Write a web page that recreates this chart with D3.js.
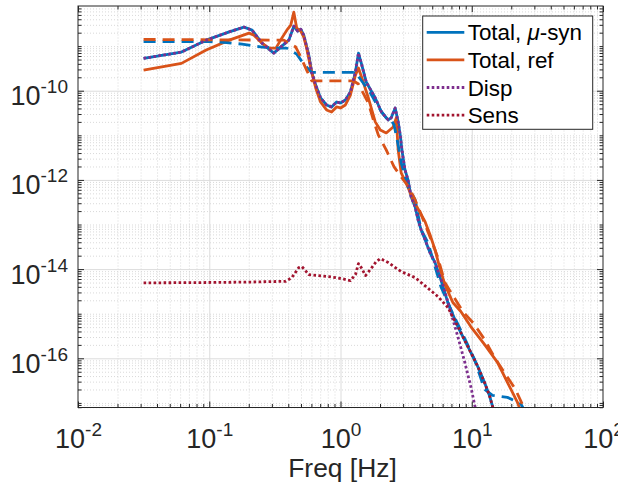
<!DOCTYPE html>
<html><head><meta charset="utf-8">
<script src="https://cdn.jsdelivr.net/npm/d3@7"></script>
<style>body{margin:0;background:#fff;} svg{display:block;font-family:"Liberation Sans",Arial,Helvetica,sans-serif;}</style>
</head><body><svg id="c" width="618" height="489"></svg>
<script>
// ---------------- data ----------------
const xTicks = [0.01, 0.1, 1, 10, 100];
const xTickExp = ["-2", "-1", "0", "1", "2"];
const yTicks = [1e-16, 1e-14, 1e-12, 1e-10];
const yTickExp = ["-16", "-14", "-12", "-10"];
const xDomain = [0.01, 100];
const yDomain = [7.89e-18, 7.93e-9];

// Total, mu-syn (solid blue)
const muSynFreq = [0.0316,0.0614,0.0948,0.142,0.184,0.212,0.252,0.310,0.357,0.404,0.441,0.472,0.498,0.525,0.573,0.603,0.647,0.705,0.783,0.855,0.933,1.0,1.09,1.19,1.30,1.37,1.44,1.57,1.84,2.05,2.31,2.43,2.61,2.75,2.85,2.95,3.10,3.27,3.45,3.70,3.90,4.11,4.41,4.81,5.25,5.72,6.58,7.83,9.33,11.1,12.5,13.7,14.9,16.3];
const muSynTotal = [5.31e-10,7.35e-10,1.36e-9,2.09e-9,2.66e-9,2.28e-9,1.17e-9,6.97e-10,1.0e-9,1.36e-9,2.80e-9,2.17e-9,2.40e-9,1.76e-9,6.30e-10,2.62e-10,1.34e-10,6.87e-11,4.79e-11,4.32e-11,5.58e-11,5.31e-11,6.19e-11,9.35e-11,2.62e-10,6.97e-10,4.17e-10,1.57e-10,6.87e-11,3.33e-11,2.21e-11,2.45e-11,4.10e-11,2.0e-11,1.02e-11,4.26e-12,1.68e-12,1.0e-12,4.19e-13,2.50e-13,1.28e-13,7.66e-14,4.57e-14,2.34e-14,1.40e-14,6.79e-15,1.78e-15,5.16e-16,1.85e-16,6.59e-17,2.89e-17,1.41e-17,5.86e-18,2.6e-18];

// Total, ref (solid orange)
const refFreq = [0.0316,0.0614,0.0948,0.142,0.201,0.219,0.252,0.285,0.322,0.357,0.390,0.418,0.441,0.464,0.498,0.525,0.552,0.593,0.647,0.705,0.783,0.855,0.933,1.0,1.09,1.19,1.30,1.37,1.49,1.63,1.84,2.01,2.23,2.52,2.66,2.75,2.90,3.16,3.57,4.04,4.41,4.81,5.25,5.62,6.24,7.18,8.26,9.83,12.5,15.7,18.7,22.3,23.9,25.6];
const refTotal = [2.90e-10,4.10e-10,8.15e-10,1.36e-9,1.95e-9,1.76e-9,1.17e-9,9.0e-10,9.0e-10,1.51e-9,2.28e-9,2.95e-9,5.77e-9,2.53e-9,2.17e-9,1.59e-9,9.0e-10,3.22e-10,1.15e-10,5.58e-11,3.70e-11,3.33e-11,4.32e-11,4.10e-11,4.79e-11,8.01e-11,2.24e-10,3.22e-10,1.57e-10,6.87e-11,2.0e-11,1.32e-11,1.13e-11,1.54e-11,2.45e-11,4.71e-12,1.44e-12,8.6e-13,3.59e-13,1.84e-13,1.16e-13,5.91e-14,2.73e-14,1.26e-14,4.50e-15,1.78e-15,1.12e-15,5.16e-16,2.05e-16,8.10e-17,2.89e-17,1.03e-17,5.86e-18,2.6e-18];

// dashed blue (mu-syn, not in legend)
const muSynDashFreq = [0.0316,0.1,0.135,0.178,0.252,0.339,0.390,0.464,0.525,0.603,1.30,1.47,1.69,1.94,2.23,2.43,2.56,2.75,2.90,3.27,3.70,4.11,4.64,5.25,5.82,6.93,8.55,10.5,12.5,14.4,18.7,23.5,26.5];
const muSynDash = [1.26e-9,1.26e-9,1.20e-9,1.11e-9,9.51e-10,9.0e-10,9.0e-10,6.62e-10,3.95e-10,2.58e-10,2.58e-10,1.57e-10,8.89e-11,4.32e-11,2.45e-11,2.21e-11,1.71e-11,6.10e-12,2.41e-12,7.0e-13,3.59e-13,7.66e-14,3.92e-14,1.14e-14,4.06e-15,1.24e-15,3.43e-16,9.44e-17,2.02e-17,1.48e-17,1.33e-17,9.8e-18,5.27e-18];

// dashed orange (ref, not in legend)
const refDashFreq = [0.0316,0.370,0.456,0.498,0.552,0.603,1.25,1.37,1.63,1.78,1.94,2.23,2.56,2.90,3.27,3.70,4.04,4.64,5.52,6.24,8.55,10.5,12.5,14.9,18.1,21.5,24.3,26.5];
const refDash = [1.41e-9,1.36e-9,9.51e-10,5.68e-10,2.90e-10,1.67e-10,1.67e-10,1.41e-10,5.31e-11,2.21e-11,1.02e-11,4.71e-12,1.96e-12,1.17e-12,7.38e-13,3.59e-13,1.93e-13,6.90e-14,1.81e-14,4.99e-15,1.12e-15,5.73e-16,2.65e-16,1.05e-16,4.37e-17,2.02e-17,9.3e-18,4.3e-18];

// Disp (dotted purple)
const dispFreq = [0.0316,0.0614,0.0948,0.142,0.184,0.212,0.252,0.310,0.357,0.404,0.441,0.472,0.498,0.525,0.573,0.603,0.647,0.705,0.783,0.855,0.933,1.0,1.09,1.19,1.30,1.37,1.44,1.57,1.84,2.05,2.31,2.43,2.61,2.75,2.85,2.95,3.10,3.27,3.45,3.70,3.90,4.11,4.41,4.81,5.25,6.03,6.93,7.83,8.85,9.83,10.5,11.3];
const dispVal = [5.31e-10,7.35e-10,1.36e-9,2.09e-9,2.66e-9,2.28e-9,1.17e-9,6.97e-10,1.0e-9,1.36e-9,2.80e-9,2.17e-9,2.40e-9,1.76e-9,6.30e-10,2.62e-10,1.34e-10,6.87e-11,4.79e-11,4.32e-11,5.58e-11,5.31e-11,6.19e-11,9.35e-11,2.62e-10,6.97e-10,4.17e-10,1.57e-10,6.87e-11,3.33e-11,2.21e-11,2.45e-11,4.10e-11,2.0e-11,1.02e-11,4.26e-12,1.68e-12,1.0e-12,4.19e-13,2.50e-13,1.28e-13,7.66e-14,4.57e-14,2.34e-14,1.40e-14,4.50e-15,1.06e-15,3.09e-16,8.10e-17,2.35e-17,9.3e-18,3.3e-18];

// Sens (dotted dark red)
const sensFreq = [0.0316,0.0839,0.201,0.383,0.426,0.481,0.507,0.533,0.573,0.811,1.02,1.19,1.30,1.37,1.44,1.55,1.69,1.87,2.01,2.31,2.90,3.70,4.48,5.52,6.58,7.83,9.33,11.1,12.5,13.7,14.9,16.3];
const sensVal = [4.91e-15,4.99e-15,5.12e-15,5.33e-15,6.46e-15,1.08e-14,1.14e-14,9.75e-15,7.53e-15,6.79e-15,6.12e-15,5.53e-15,7.53e-15,1.33e-14,1.08e-14,7.15e-15,9.75e-15,1.47e-14,1.72e-14,1.40e-14,8.79e-15,6.46e-15,4.06e-15,2.43e-15,1.38e-15,5.16e-16,1.85e-16,6.59e-17,2.89e-17,1.41e-17,5.86e-18,2.6e-18];

const legendLabels = ["Total, ", "Total, ref", "Disp", "Sens"];

// ---------------- drawing ----------------
const ink = "#262626";
const C = {blue:"#0072BD", orange:"#D95319", purple:"#7E2F8E", red:"#A2142F"};
const m = {left:78, right:603, top:6, bottom:407.5};
const x = d3.scaleLog().domain(xDomain).range([m.left, m.right]);
const y = d3.scaleLog().domain(yDomain).range([m.bottom, m.top]);
const svg = d3.select("#c");
const ph = m.bottom - m.top, pw = m.right - m.left;
const LW = 2.8;

svg.append("defs").append("clipPath").attr("id","clip")
  .append("rect").attr("x",m.left).attr("y",m.top).attr("width",pw).attr("height",ph);

// minor values
const xMinor = [];
for (let n=-2;n<2;n++) for (let k=2;k<=9;k++) xMinor.push(k*Math.pow(10,n));
const yMinor = [];
for (let n=-18;n<-7;n++) for (let k=1;k<=9;k++) {
  const v = k*Math.pow(10,n);
  if (v>=yDomain[0] && v<=yDomain[1] && !yTicks.some(t=>Math.abs(v/t-1)<1e-6)) yMinor.push(v);
}
const xMajorInner = xTicks.filter(v=>v>xDomain[0] && v<xDomain[1]);

// grids
function gridStyle(sel, minor){
  sel.select(".domain").remove();
  sel.selectAll("text").remove();
  sel.selectAll("line").attr("stroke", minor ? "#c8c8c8" : "#dcdcdc")
     .attr("stroke-width", minor ? 0.7 : 1)
     .attr("stroke-dasharray", minor ? "1,2" : null);
}
svg.append("g").attr("transform",`translate(0,${m.bottom})`)
  .call(d3.axisBottom(x).tickValues(xMinor).tickSize(-ph).tickFormat("")).call(s=>gridStyle(s,true));
svg.append("g").attr("transform",`translate(${m.left},0)`)
  .call(d3.axisLeft(y).tickValues(yMinor).tickSize(-pw).tickFormat("")).call(s=>gridStyle(s,true));
svg.append("g").attr("transform",`translate(0,${m.bottom})`)
  .call(d3.axisBottom(x).tickValues(xMajorInner).tickSize(-ph).tickFormat("")).call(s=>gridStyle(s,false));
svg.append("g").attr("transform",`translate(${m.left},0)`)
  .call(d3.axisLeft(y).tickValues(yTicks).tickSize(-pw).tickFormat("")).call(s=>gridStyle(s,false));

// series
const line = d3.line().x(d=>x(d[0])).y(d=>y(d[1])).curve(d3.curveLinear);
const plot = svg.append("g").attr("clip-path","url(#clip)");
function draw(fr, vals, color, dash){
  plot.append("path").datum(fr.map((f,i)=>[f, vals[i]]))
    .attr("d", line).attr("fill","none").attr("stroke", color)
    .attr("stroke-width", LW).attr("stroke-linejoin","round")
    .attr("stroke-dasharray", dash);
}
draw(muSynFreq, muSynTotal, C.blue, null);
draw(refFreq, refTotal, C.orange, null);
draw(muSynDashFreq, muSynDash, C.blue, "12,7");
draw(refDashFreq, refDash, C.orange, "12,7");
draw(dispFreq, dispVal, C.purple, "2.6,2.4");
draw(sensFreq, sensVal, C.red, "2.6,2.4");

// axes (ticks inward)
function tickStyle(sel){
  sel.select(".domain").remove();
  sel.selectAll("line").attr("stroke", ink).attr("stroke-width", 1);
}
function noText(sel){ sel.selectAll("text").remove(); }
svg.append("g").attr("transform",`translate(0,${m.bottom})`).call(d3.axisBottom(x).tickValues(xMinor).tickSize(-3.5).tickFormat("")).call(tickStyle).call(noText);
svg.append("g").attr("transform",`translate(0,${m.top})`).call(d3.axisTop(x).tickValues(xMinor).tickSize(-3.5).tickFormat("")).call(tickStyle).call(noText);
svg.append("g").attr("transform",`translate(${m.left},0)`).call(d3.axisLeft(y).tickValues(yMinor).tickSize(-3.5).tickFormat("")).call(tickStyle).call(noText);
svg.append("g").attr("transform",`translate(${m.right},0)`).call(d3.axisRight(y).tickValues(yMinor).tickSize(-3.5).tickFormat("")).call(tickStyle).call(noText);
svg.append("g").attr("transform",`translate(0,${m.top})`).call(d3.axisTop(x).tickValues(xTicks).tickSize(-6).tickFormat("")).call(tickStyle).call(noText);
svg.append("g").attr("transform",`translate(${m.right},0)`).call(d3.axisRight(y).tickValues(yTicks).tickSize(-6).tickFormat("")).call(tickStyle).call(noText);

const xAx = svg.append("g").attr("transform",`translate(0,${m.bottom})`)
  .call(d3.axisBottom(x).tickValues(xTicks).tickSize(-6).tickSizeOuter(0).tickFormat(""))
  .call(tickStyle).attr("font-family", null).attr("font-size", null);
xAx.selectAll(".tick text").each(function(d,i){
  const t = d3.select(this).attr("y", 40).attr("dy", null).attr("fill", ink)
    .attr("font-size", 27).attr("text-anchor","middle");
  t.append("tspan").text("10");
  t.append("tspan").attr("dy", -12).attr("font-size", 19).text(xTickExp[i]);
});
const yAx = svg.append("g").attr("transform",`translate(${m.left},0)`)
  .call(d3.axisLeft(y).tickValues(yTicks).tickSize(-6).tickSizeOuter(0).tickFormat(""))
  .call(tickStyle).attr("font-family", null).attr("font-size", null);
yAx.selectAll(".tick text").each(function(d,i){
  const t = d3.select(this).attr("x", -10).attr("y", 14).attr("dy", null).attr("fill", ink)
    .attr("font-size", 27).attr("text-anchor","end");
  t.append("tspan").text("10");
  t.append("tspan").attr("dy", -12).attr("font-size", 19).text(yTickExp[i]);
});

// box
svg.append("rect").attr("x",m.left).attr("y",m.top).attr("width",pw).attr("height",ph)
  .attr("fill","none").attr("stroke",ink).attr("stroke-width",1);

// x label
svg.append("text").attr("x",(m.left+m.right)/2 + 2).attr("y",477).attr("text-anchor","middle")
  .attr("font-size",26.4).attr("fill",ink).text("Freq [Hz]");

// legend
const lg = svg.append("g");
lg.append("rect").attr("x",422.7).attr("y",16).attr("width",170).attr("height",113.3)
  .attr("fill","#fff").attr("stroke",ink).attr("stroke-width",1);
const legItems = [
  {c:C.blue, dash:null}, {c:C.orange, dash:null},
  {c:C.purple, dash:"2.6,2.4"}, {c:C.red, dash:"2.6,2.4"}
];
legItems.forEach((it,i)=>{
  const cy = 32.3 + i*27.6;
  lg.append("line").attr("x1",426.7).attr("x2",464.3).attr("y1",cy).attr("y2",cy)
    .attr("stroke",it.c).attr("stroke-width",LW).attr("stroke-dasharray",it.dash);
  const t = lg.append("text").attr("x",467.7).attr("y",cy+8).attr("font-size",22.4).attr("fill","#000");
  if (i===0){
    t.append("tspan").text(legendLabels[0]);
    t.append("tspan").attr("font-style","italic").text("μ");
    t.append("tspan").text("-syn");
  } else t.text(legendLabels[i]);
});
</script></body></html>
